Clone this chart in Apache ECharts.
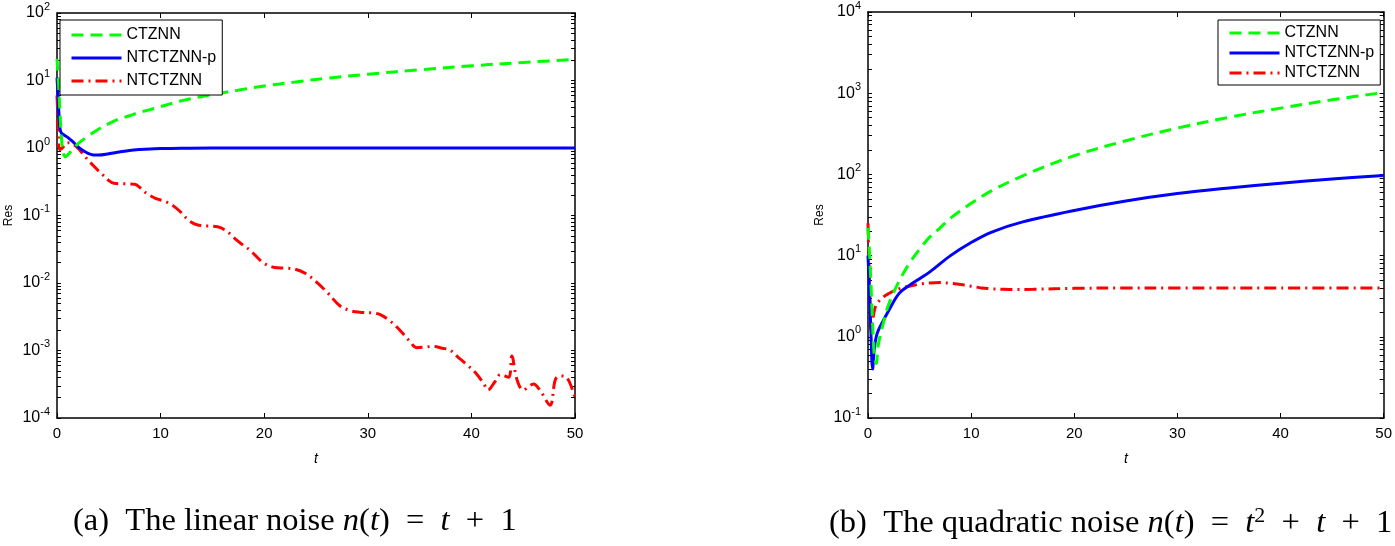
<!DOCTYPE html>
<html>
<head>
<meta charset="utf-8">
<script src="https://cdn.jsdelivr.net/npm/echarts@6/dist/echarts.min.js"></script>
<style>
	html, body {margin: 0; padding: 0; background: #fff;}
	#chart {width: 1395px; height: 546px;}
</style>
</head>
<body>
<div id="chart"></div>
<script>
//	series names
var names = ['CTZNN', 'NTCTZNN-p', 'NTCTZNN'];

//	(a) linear noise, [t, Res]
var linCT = [[0,21],[0.15,9],[0.3,3],[0.45,1.3],[0.6,0.85],[0.8,0.74],[1,0.78],[1.5,0.95],[2,1.15],[3,1.5],[4,1.9],[5,2.3],
	[6,2.7],[7,3.0],[8,3.4],[9,3.7],[10,4.1],[12,5.0],[14,5.8],[16,6.6],[18,7.4],[20,8.3],[23,9.5],[26,10.8],[30,12.4],
	[35,14.4],[40,16.5],[45,18.5],[50,20.5]];
var linNTp = [[0,11],[0.1,6],[0.2,3],[0.3,1.9],[0.45,1.65],[0.7,1.55],[1,1.45],[1.5,1.25],[2,1.05],[2.5,0.92],[3,0.83],
	[3.5,0.79],[4,0.785],[5,0.82],[6,0.87],[7,0.92],[8,0.95],[9,0.97],[10,0.98],[12,0.99],[15,1.0],[20,1.0],[30,1.0],
	[40,1.0],[50,1.0]];
var linNT = [[0,6],[0.1,2.5],[0.25,0.95],[0.5,1.0],[1,1.2],[1.5,1.15],[2,1.0],[2.5,0.82],[3,0.66],[3.5,0.55],[4,0.46],
	[4.5,0.39],[5,0.33],[5.5,0.3],[6.5,0.295],[7.5,0.29],[8,0.26],[8.7,0.21],[9.5,0.18],[10.5,0.16],[11.2,0.14],[12,0.11],
	[12.7,0.085],[13.5,0.073],[14.5,0.07],[15.5,0.068],[16.3,0.06],[17,0.048],[18,0.036],[18.6,0.031],[19.9,0.02],
	[21,0.017],[22,0.0166],[23,0.016],[24,0.0138],[25,0.0105],[26,0.0075],[27.3,0.0046],[28.3,0.0039],[29.2,0.0037],
	[30.5,0.0036],[31.2,0.0034],[32.2,0.0027],[33.1,0.002],[34,0.0014],[34.7,0.0011],[35.5,0.00112],[36.3,0.00115],
	[37.2,0.00108],[37.9,0.00102],[38.7,0.0008],[39.6,0.00061],[40.5,0.00045],[41.2,0.00032],[41.6,0.00026],
	[42.3,0.00035],[42.8,0.00044],[43.6,0.0004],[43.9,0.00083],[44.4,0.00037],[45,0.00026],[46,0.00032],[46.6,0.00026],
	[47.6,0.000155],[48.1,0.00037],[48.6,0.00042],[49.2,0.0004],[50,0.0002]];

//	(b) quadratic noise, [t, Res]
var quadCT = [[0,22],[0.2,8],[0.4,2],[0.6,0.6],[0.8,0.47],[1,0.8],[1.5,1.5],[2,2.5],[3,4.8],[4,8],[5,12],[6,17],[7,22],
	[8,29],[10,44],[12,63],[15,96],[20,170],[25,260],[30,372],[35,505],[40,655],[45,830],[50,1020]];
var quadNTp = [[0,10],[0.1,5],[0.25,1.5],[0.45,0.4],[0.6,0.7],[0.8,1.0],[1,1.2],[1.5,1.6],[2,2.1],[3,3.4],[4,4.3],[5,5.2],
	[6,6.3],[8,10],[10,14.5],[12,19.5],[15,26],[20,36],[25,47],[30,58],[35,68],[40,78],[45,88],[50,97]];
var quadNT = [[0,25],[0.1,8],[0.2,2.5],[0.3,1.2],[0.45,1.6],[0.7,2.3],[1,2.7],[1.5,3.1],[2,3.4],[3,3.9],[4,4.2],[5,4.45],
	[6,4.6],[7,4.65],[8,4.55],[9,4.4],[10,4.2],[11,4.0],[12,3.9],[13,3.85],[14,3.82],[16,3.85],[20,3.95],[25,4.0],
	[30,3.98],[40,3.98],[50,3.98]];

//	axis ranges
var linYRange = [1e-4, 1e2],
	quadYRange = [1e-1, 1e4];


var myChart = echarts.init(document.getElementById('chart'));

var font = 'Liberation Sans';
var serif = 'Liberation Serif';
var styles = [
	{color: '#00ff00', type: [12, 7], width: 3},
	{color: '#0000ff', type: 'solid', width: 3},
	{color: '#ff0000', type: [12, 5, 2, 5], width: 3}
];

//	decade + 2..9 ticks, like matlab log axes
function logTicks(range) {
	var out = [];
	var lo = Math.round(Math.log10(range[0])), hi = Math.round(Math.log10(range[1]));
	for(var e=lo; e<hi; e++) {
		for(var k=1; k<10; k++) out.push(k * Math.pow(10, e));
	}
	out.push(range[1]);
	return out;
}

function xAxes(g) {
	var base = {
		gridIndex: g, type: 'value', min: 0, max: 50, interval: 10,
		axisLine: {onZero: false, lineStyle: {color: '#000', width: 1.5}},
		axisTick: {inside: true, length: 5, lineStyle: {color: '#000'}},
		splitLine: {show: false}
	};
	return [
		Object.assign({}, base, {
			position: 'bottom',
			axisLabel: {color: '#000', fontFamily: font, fontSize: 15, margin: 8},
			name: 't', nameLocation: 'middle', nameGap: 34,
			nameTextStyle: {color: '#000', fontFamily: font, fontSize: 14, fontStyle: 'italic'}
		}),
		Object.assign({}, base, {position: 'top', axisLabel: {show: false}})
	];
}

function yAxes(g, range) {
	var base = {
		gridIndex: g, type: 'log', logBase: 10, min: range[0], max: range[1],
		axisLine: {onZero: false, lineStyle: {color: '#000', width: 1.5}},
		axisTick: {inside: true, length: 4, lineStyle: {color: '#000'}, customValues: logTicks(range)},
		splitLine: {show: false}
	};
	return [
		Object.assign({}, base, {
			position: 'left',
			axisLabel: {
				color: '#000', margin: 7,
				formatter: function(v) {
					return '{b|10}{s|' + Math.round(Math.log10(v)) + '}';
				},
				rich: {
					b: {fontFamily: font, fontSize: 16, lineHeight: 24, color: '#000'},
					s: {fontFamily: font, fontSize: 11, lineHeight: 11, verticalAlign: 'top', color: '#000'}
				}
			},
			name: 'Res', nameLocation: 'middle', nameGap: 42,
			nameTextStyle: {color: '#000', fontFamily: font, fontSize: 12}
		}),
		Object.assign({}, base, {position: 'right', axisLabel: {show: false}})
	];
}

function line(name, i, data, g) {
	return {
		name: name, type: 'line', data: data,
		xAxisIndex: g * 2, yAxisIndex: g * 2,
		symbol: 'none', smooth: 0.35,
		lineStyle: styles[i], itemStyle: {color: styles[i].color},
		animation: false, z: 3 - i
	};
}

function legendAt(opt) {
	return Object.assign({
		data: names, orient: 'vertical',
		backgroundColor: '#fff', borderColor: '#000', borderWidth: 1, borderRadius: 0,
		itemWidth: 50, itemHeight: 14,
		itemStyle: {opacity: 0},
		lineStyle: {width: 3},
		textStyle: {color: '#000', fontFamily: font, fontSize: 16},
		selectedMode: false
	}, opt);
}

var capRich = {
	r: {fontFamily: serif, fontSize: 32.5, lineHeight: 36, fill: '#000'},
	i: {fontFamily: serif, fontSize: 32.5, lineHeight: 36, fontStyle: 'italic', fill: '#000'},
	s: {fontFamily: serif, fontSize: 22, lineHeight: 20, verticalAlign: 'top', fill: '#000'}
};

var option = {
	backgroundColor: '#fff',
	animation: false,
	grid: [
		{left: 57, top: 13, width: 518, height: 405},
		{left: 868, top: 12, width: 518, height: 406}
	],
	xAxis: xAxes(0).concat(xAxes(1)),
	yAxis: yAxes(0, linYRange).concat(yAxes(1, quadYRange)),
	legend: [
		legendAt({left: 60, top: 20, itemGap: 7, padding: [7, 6, 6, 10]}),
		legendAt({left: 1218, top: 20, itemGap: 4, padding: [5, 6, 4, 10]})
	],
	series: [
		line(names[0], 0, linCT, 0),
		line(names[1], 1, linNTp, 0),
		line(names[2], 2, linNT, 0),
		line(names[0], 0, quadCT, 1),
		line(names[1], 1, quadNTp, 1),
		line(names[2], 2, quadNT, 1)
	],
	graphic: [
		{
			type: 'text', left: 73, top: 505,
			style: {
				text: '{r|(a)  The linear noise }{i|n}{r|(}{i|t}{r|)  =  }{i|t}{r|  +  1}',
				rich: capRich
			}
		},
		{
			type: 'text', left: 829, top: 505,
			style: {
				text: '{r|(b)  The quadratic noise }{i|n}{r|(}{i|t}{r|)  =  }{i|t}{s|2}{r|  +  }{i|t}{r|  +  1}',
				rich: capRich
			}
		}
	]
};

myChart.setOption(option);
</script>
</body>
</html>
